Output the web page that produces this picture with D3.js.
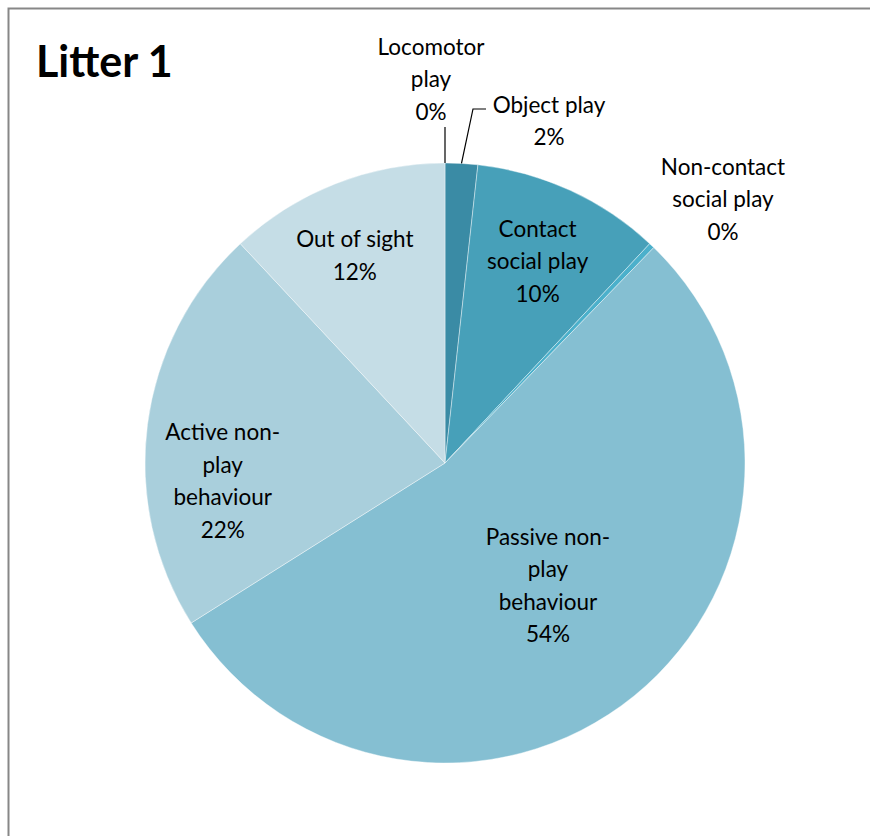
<!DOCTYPE html>
<html><head><meta charset="utf-8">
<script src="https://cdn.jsdelivr.net/npm/d3@7"></script>
<style>body{margin:0;background:#fff}text{font-family:Lato,"Open Sans",sans-serif;fill:#000}</style>
</head><body><svg id="c" width="870" height="836"></svg>
<script>
const title = "Litter 1";
const categories = ["Locomotor play","Object play","Contact social play","Non-contact social play","Passive non-play behaviour","Active non-play behaviour","Out of sight"];
const labelLines = [["Locomotor","play"],["Object play"],["Contact","social play"],["Non-contact","social play"],["Passive non-","play","behaviour"],["Active non-","play","behaviour"],["Out of sight"]];
const values = [0, 1.75, 10.2, 0.3, 53.8, 22.0, 11.95];
const colors = ["#2f7f99","#3a8ba5","#47a0b9","#4bb0cb","#85bfd2","#a9cfdc","#c5dde6"];

const svg = d3.select("#c");
const cx = 445, cy = 463, R = 300, LH = 32.5;

svg.append("rect").attr("x",8.5).attr("y",8.5).attr("width",900).attr("height",900)
  .attr("fill","none").attr("stroke","#878787").attr("stroke-width",2);

svg.append("text").attr("x",36).attr("y",77).attr("font-size",43).attr("font-weight",700).text(title);

const pie = d3.pie().sort(null).value(d=>d)(values);
const arc = d3.arc().innerRadius(0).outerRadius(R);
const g = svg.append("g").attr("transform",`translate(${cx},${cy})`);
g.selectAll("path").data(pie).join("path").attr("d",arc)
  .attr("fill",(d,i)=>colors[i]).attr("stroke","#ffffff").attr("stroke-opacity",0.5).attr("stroke-width",0.8);

// label placement (inside: radius along slice mid angle; outside: absolute)
const layout = [
  {abs:[431,47]},
  {abs:[549,105]},
  {r:222, da:0},
  {abs:[723,167]},
  {r:160, da:-1},
  {r:223, da:-12},
  {r:226, da:-2}
];
pie.forEach((d,i)=>{
  const L = layout[i];
  const lines = labelLines[i].concat([Math.round(values[i])+"%"]);
  let x,y;
  if (L.abs){ x=L.abs[0]; y=L.abs[1]; }
  else {
    const a = (d.startAngle+d.endAngle)/2 + L.da*Math.PI/180;
    x = cx + L.r*Math.sin(a); y = cy - L.r*Math.cos(a) - (lines.length-1)*LH/2;
  }
  const t = svg.append("text").attr("text-anchor","middle").attr("font-size",22.5);
  lines.forEach((s,k)=>t.append("tspan").attr("x",x).attr("y",y+k*LH).attr("dy","0.35em").text(s));
});

// leader lines
const edge = (ang)=>[cx+R*Math.sin(ang), cy-R*Math.cos(ang)];
const p0 = edge((pie[0].startAngle+pie[0].endAngle)/2);
svg.append("path").attr("d",`M${p0[0]},${p0[1]}L${p0[0]},127`).attr("stroke","#000").attr("fill","none").attr("stroke-width",1.2);
const p1 = edge((pie[1].startAngle+pie[1].endAngle)/2);
svg.append("path").attr("d",`M${p1[0]},${p1[1]}L${473},109L486,109`).attr("stroke","#000").attr("fill","none").attr("stroke-width",1.2);
</script></body></html>
